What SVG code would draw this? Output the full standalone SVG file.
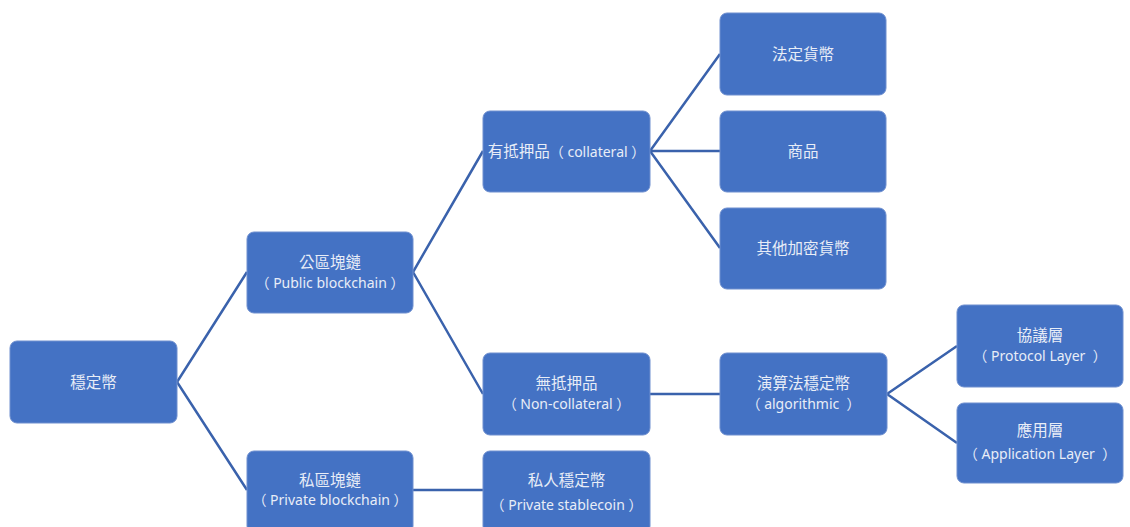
<svg xmlns="http://www.w3.org/2000/svg" width="1130" height="527" viewBox="0 0 1130 527">
<style>
.box{fill:#4472C4;stroke:#6E8FCF;stroke-width:1}
.t{font-family:"Noto Sans","Noto Sans CJK TC",sans-serif;font-size:14px;fill:#E8EDF7;text-anchor:middle;white-space:pre}
.k{font-size:15.5px}
.c{stroke:#3A62AC;stroke-width:2.5;fill:none}
</style>
<rect width="1130" height="527" fill="#FFFFFF"/>
<g id="connectors">
<polyline class="c" points="247,272 177,382 247,490"/>
<polyline class="c" points="483,151 413,272 483,394"/>
<line class="c" x1="413" y1="490" x2="483" y2="490"/>
<polyline class="c" points="720,54 650,151 720,248"/>
<line class="c" x1="650" y1="151" x2="720" y2="151"/>
<line class="c" x1="650" y1="394" x2="720" y2="394"/>
<polyline class="c" points="957,346 887,394 957,443"/>
</g>
<g id="n-stablecoin"><rect class="box" x="10" y="341" width="167" height="82" rx="7"/><text class="t k" x="93.5" y="388">穩定幣</text></g>
<g id="n-public"><rect class="box" x="247" y="232" width="166" height="81" rx="7"/><text class="t k" x="330" y="268">公區塊鏈</text><text class="t" x="330" y="288">（ Public blockchain ）</text></g>
<g id="n-private"><rect class="box" x="247" y="451" width="166" height="82" rx="7"/><text class="t k" x="330" y="486">私區塊鏈</text><text class="t" x="330" y="505">（ Private blockchain ）</text></g>
<g id="n-collateral"><rect class="box" x="483" y="111" width="167" height="81" rx="7"/><text class="t" x="566.5" y="157"><tspan class="k">有抵押品</tspan>（ collateral ）</text></g>
<g id="n-noncollateral"><rect class="box" x="483" y="353" width="167" height="82" rx="7"/><text class="t k" x="566.5" y="389">無抵押品</text><text class="t" x="566.5" y="409">（ Non-collateral ）</text></g>
<g id="n-privatestable"><rect class="box" x="483" y="451" width="167" height="82" rx="7"/><text class="t k" x="566.5" y="486">私人穩定幣</text><text class="t" x="566.5" y="510">（ Private stablecoin ）</text></g>
<g id="n-fiat"><rect class="box" x="720" y="13" width="166" height="82" rx="7"/><text class="t k" x="803" y="60">法定貨幣</text></g>
<g id="n-commodity"><rect class="box" x="720" y="111" width="166" height="81" rx="7"/><text class="t k" x="803" y="157">商品</text></g>
<g id="n-crypto"><rect class="box" x="720" y="208" width="166" height="81" rx="7"/><text class="t k" x="803" y="254">其他加密貨幣</text></g>
<g id="n-algo"><rect class="box" x="720" y="353" width="167" height="82" rx="7"/><text class="t k" x="803.5" y="389">演算法穩定幣</text><text class="t" x="803.5" y="409">（ algorithmic  ）</text></g>
<g id="n-protocol"><rect class="box" x="957" y="305" width="166" height="82" rx="7"/><text class="t k" x="1040" y="341">協議層</text><text class="t" x="1040" y="361">（ Protocol Layer  ）</text></g>
<g id="n-application"><rect class="box" x="957" y="403" width="166" height="80" rx="7"/><text class="t k" x="1040" y="436">應用層</text><text class="t" x="1040" y="459">（ Application Layer  ）</text></g>
</svg>
